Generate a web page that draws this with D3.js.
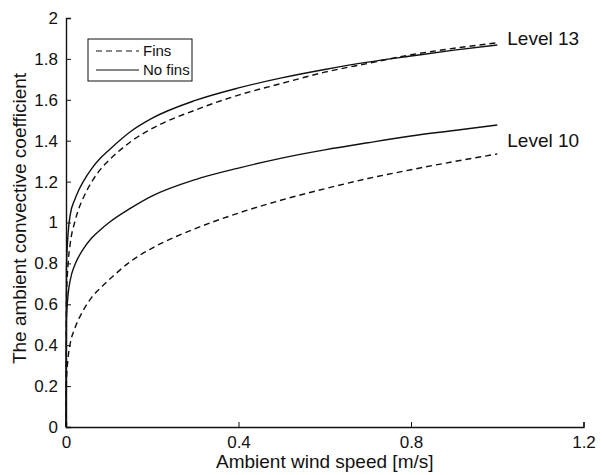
<!DOCTYPE html>
<html>
<head>
<meta charset="utf-8">
<script src="https://cdn.jsdelivr.net/npm/d3@7"></script>
<style>
  body { margin: 0; background: #fff; }
  svg text { font-family: "Liberation Sans", Arial, sans-serif; fill: #111; }
</style>
</head>
<body>
<div id="chart-area"></div>
<script>
// wind speed samples [m/s]
var windSpeed = [0, 0.001, 0.005, 0.01, 0.02, 0.03, 0.04, 0.06, 0.08, 0.1, 0.15, 0.2, 0.3, 0.4, 0.5, 0.6, 0.7, 0.8, 0.9, 1.0];

// convective coefficient
var level13NoFins = [0, 0.78, 0.95, 1.04, 1.11, 1.16, 1.20, 1.265, 1.315, 1.355, 1.445, 1.51, 1.597, 1.658, 1.707, 1.748, 1.784, 1.814, 1.843, 1.868];
var level13Fins   = [0, 0.62, 0.80, 0.90, 1.00, 1.07, 1.12, 1.20, 1.26, 1.305, 1.395, 1.46, 1.55, 1.623, 1.68, 1.735, 1.778, 1.82, 1.852, 1.879];
var level10NoFins = [0, 0.52, 0.65, 0.72, 0.79, 0.835, 0.87, 0.925, 0.965, 1.00, 1.07, 1.13, 1.21, 1.266, 1.315, 1.355, 1.39, 1.423, 1.45, 1.477];
var level10Fins   = [0, 0.22, 0.34, 0.41, 0.48, 0.53, 0.57, 0.635, 0.68, 0.72, 0.81, 0.875, 0.97, 1.046, 1.11, 1.165, 1.215, 1.258, 1.298, 1.335];

var xTicks = [0, 0.4, 0.8, 1.2];
var yTicks = [0, 0.2, 0.4, 0.6, 0.8, 1, 1.2, 1.4, 1.6, 1.8, 2];

var width = 602, height = 475;
var margin = {left: 66, right: 18.5, top: 18, bottom: 48};

var svg = d3.select("#chart-area").append("svg")
    .attr("width", width)
    .attr("height", height);

var x = d3.scaleLinear()
    .domain([0, 1.2])
    .range([margin.left, width - margin.right]);

var y = d3.scaleLinear()
    .domain([0, 2])
    .range([height - margin.bottom, margin.top]);

// axes with inward ticks
var xAxis = svg.append("g")
    .attr("transform", "translate(0," + y(0) + ")")
    .call(d3.axisBottom(x).tickValues(xTicks).tickSize(-5).tickPadding(9)
        .tickFormat(d => d == 0 ? "0" : d3.format(".1f")(d)));

var yAxis = svg.append("g")
    .attr("transform", "translate(" + x(0) + ",0)")
    .call(d3.axisLeft(y).tickValues(yTicks).tickSize(-5).tickPadding(8)
        .tickFormat(d => (d == 0 || d == 1 || d == 2) ? String(d) : d3.format(".1f")(d)));

[xAxis, yAxis].forEach(g => {
    g.select(".domain").attr("stroke", "#111").attr("stroke-width", 1.4);
    g.selectAll(".tick line").attr("stroke", "#111").attr("stroke-width", 1);
    g.selectAll(".tick text").style("font-size", "17px").attr("fill", "#111");
});
xAxis.selectAll(".tick text").attr("dy", "0.7em");

var line = d3.line()
    .x(d => x(d[0]))
    .y(d => y(d[1]))
    .curve(d3.curveMonotoneX);

var series = [
    {values: level13NoFins, dash: null},
    {values: level13Fins, dash: "6,4"},
    {values: level10NoFins, dash: null},
    {values: level10Fins, dash: "6,4"}
];

series.forEach(s => {
    svg.append("path")
        .datum(windSpeed.map((w, i) => [w, s.values[i]]))
        .attr("d", line)
        .attr("fill", "none")
        .attr("stroke", "#111")
        .attr("stroke-width", 1.4)
        .attr("stroke-dasharray", s.dash);
});

// level labels
svg.append("text").attr("x", x(1.0) + 10).attr("y", y(1.9)).attr("dy", "0.35em")
    .style("font-size", "19px").text("Level 13");
svg.append("text").attr("x", x(1.0) + 10).attr("y", y(1.4)).attr("dy", "0.35em")
    .style("font-size", "19px").text("Level 10");

// legend
var legend = svg.append("g");
legend.append("rect")
    .attr("x", 88).attr("y", 39).attr("width", 104).attr("height", 42)
    .attr("fill", "#fff").attr("stroke", "#111").attr("stroke-width", 1);
[{label: "Fins", dash: "6,4", yy: 51}, {label: "No fins", dash: null, yy: 70}].forEach(l => {
    legend.append("line")
        .attr("x1", 96).attr("x2", 139).attr("y1", l.yy).attr("y2", l.yy)
        .attr("stroke", "#111").attr("stroke-width", 1.2)
        .attr("stroke-dasharray", l.dash);
    legend.append("text")
        .attr("x", 143).attr("y", l.yy).attr("dy", "0.35em")
        .style("font-size", "15px").text(l.label);
});

// axis titles
svg.append("text")
    .attr("x", (x(0) + x(1.2)) / 2).attr("y", 468)
    .attr("text-anchor", "middle")
    .style("font-size", "19px")
    .text("Ambient wind speed [m/s]");

svg.append("text")
    .attr("transform", "translate(26," + (y(1) - 4) + ") rotate(-90)")
    .attr("text-anchor", "middle")
    .style("font-size", "19px")
    .text("The ambient convective coefficient");
</script>
</body>
</html>
